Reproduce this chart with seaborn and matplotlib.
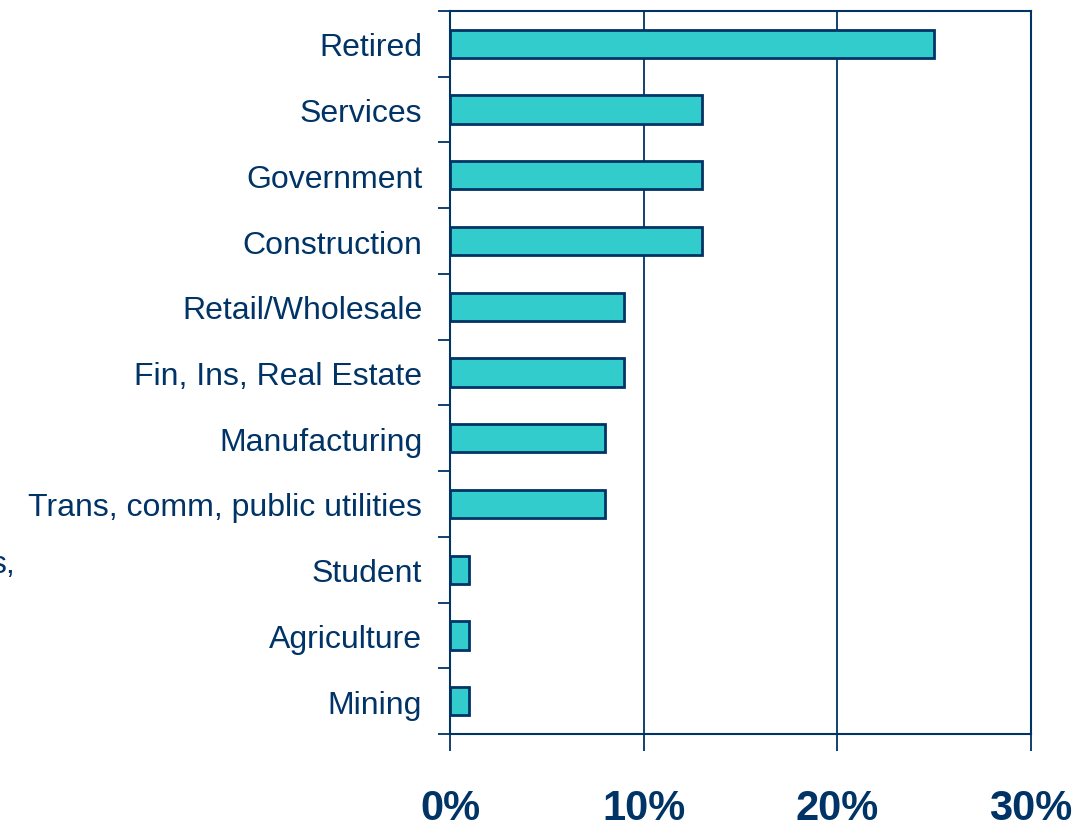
import seaborn as sns
import matplotlib.pyplot as plt
import pandas as pd
import numpy as np

# categories and shares (%)
sectors = ["Retired", "Services", "Government", "Construction", "Retail/Wholesale",
           "Fin, Ins, Real Estate", "Manufacturing", "Trans, comm, public utilities",
           "Student", "Agriculture", "Mining"]
share = [25, 13, 13, 13, 9, 9, 8, 8, 1, 1, 1]
xticks = [0, 10, 20, 30]
xlabels = ["0%", "10%", "20%", "30%"]

navy = "#003366"
teal = "#33CCCC"

df = pd.DataFrame({"sector": sectors, "share": share})

sns.set_style("white")
plt.rcParams['font.family'] = ['Liberation Sans', 'DejaVu Sans']

fig = plt.figure(figsize=(10.78, 8.37), dpi=100)
ax = fig.add_axes([450/1078, 1-735/837, (1031-450)/1078, (735-12)/837])

sns.barplot(data=df, y="sector", x="share", orient="h", color=teal,
            edgecolor=navy, linewidth=2, width=0.43, saturation=1, ax=ax)

ax.set_xlim(0, 30)
ax.set_ylim(len(sectors) - 0.5, -0.5)
ax.set_xlabel("")
ax.set_ylabel("")

# vertical grid lines
for v in xticks[1:]:
    ax.axvline(v, color=navy, lw=1.3, zorder=0)

ax.set_xticks(xticks)
ax.set_xticklabels(xlabels, fontsize=30, fontweight="bold", color=navy)
ax.tick_params(axis="x", bottom=True, direction="out", length=12, width=1.3,
               color=navy, pad=27)

ax.set_yticks(range(len(sectors)))
ax.set_yticklabels(sectors, fontsize=23, color=navy)
ax.tick_params(axis="y", which="major", left=True, length=0, pad=20)
ax.set_yticks(np.arange(-0.5, len(sectors)), minor=True)
ax.tick_params(axis="y", which="minor", left=True, direction="out", length=9,
               width=1.3, color=navy)

for s in ax.spines.values():
    s.set_color(navy)
    s.set_linewidth(1.5)

# clipped fragment of a label at the left edge
fig.text(15/1078, 1-565/837, "s,", ha="right", va="center", fontsize=23, color=navy)

fig.savefig("out.png", dpi=100)
